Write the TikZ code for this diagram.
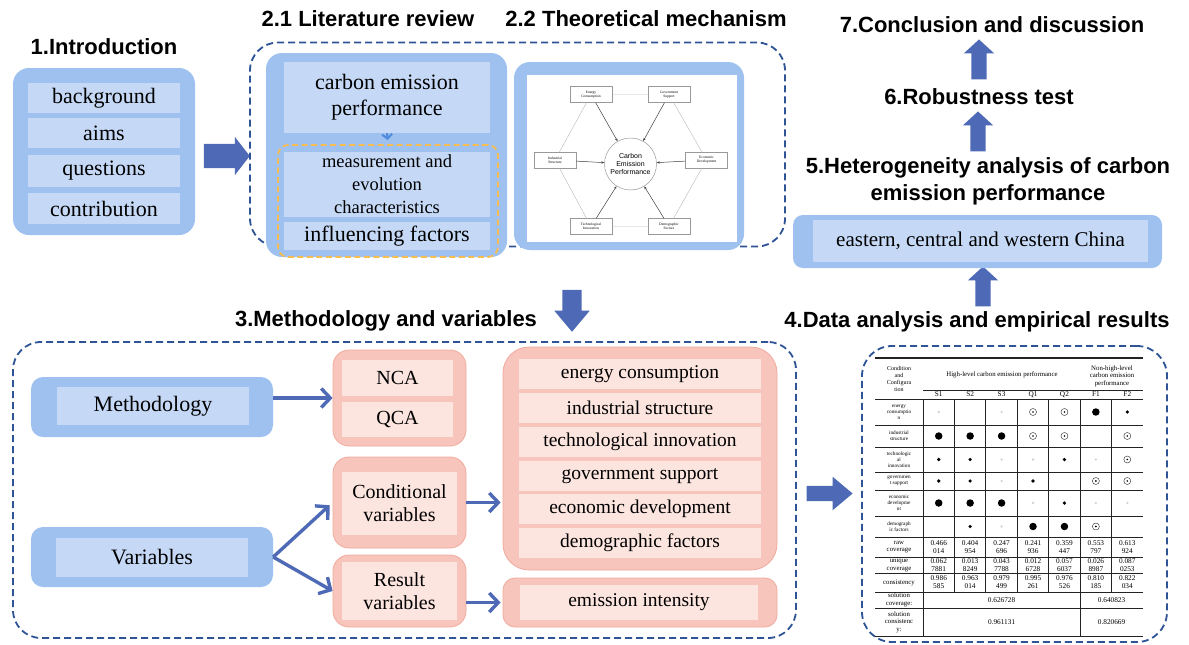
\documentclass[tikz,border=0pt]{standalone}
\usepackage{fontspec}
\setmainfont{Liberation Serif}
\setsansfont{Liberation Sans}
\usetikzlibrary{arrows.meta,shapes.arrows}

\definecolor{panelblue}{RGB}{158,193,240}
\definecolor{barblue}{RGB}{197,217,246}
\definecolor{panelpink}{RGB}{247,197,187}
\definecolor{edgepink}{RGB}{241,170,158}
\definecolor{barpink}{RGB}{252,228,223}
\definecolor{dashblue}{RGB}{46,84,150}
\definecolor{flowblue}{RGB}{78,106,182}
\definecolor{chevblue}{RGB}{84,141,222}
\definecolor{dashorange}{RGB}{248,189,80}
\definecolor{rulegray}{RGB}{35,35,35}

\tikzset{
  sechead/.style={font=\sffamily\bfseries\fontsize{22}{27}\selectfont,align=center,inner sep=0pt},
  panel/.style={fill=panelblue,rounded corners=16pt,inner sep=0pt},
  barbox/.style={fill=barblue,inner sep=0pt,align=center,font=\fontsize{22}{26}\selectfont},
  pinkpanel/.style={fill=panelpink,draw=edgepink,line width=0.8pt,rounded corners=16pt,inner sep=0pt},
  pinkbar/.style={fill=barpink,inner sep=0pt,align=center,font=\fontsize{19.5}{23}\selectfont},
  secbox/.style={draw=dashblue,line width=1.8pt,dash pattern=on 7pt off 4pt,rounded corners=28pt,inner sep=0pt},
  flowarrow/.style={single arrow,fill=flowblue,inner sep=7.5pt,single arrow head extend=7.5pt,single arrow tip angle=95},
  linkarrow/.style={draw=flowblue,line width=3.4pt,-{Straight Barb[length=9pt,width=19pt]}},
  hexbox/.style={draw=gray!80,line width=0.4pt,fill=white,minimum width=42,minimum height=16,inner sep=0pt,align=center,font=\fontsize{3.6}{4}\selectfont},
  hexline/.style={draw=gray!55,line width=0.4pt},
  hexarrow/.style={draw=black!75,line width=0.5pt,-{Stealth[length=3pt,width=2.4pt]}},
  tabrule/.style={draw=rulegray,line width=1pt},
  rowtxt/.style={inner sep=0pt,align=center,font=\fontsize{5.2}{6}\selectfont},
  stattxt/.style={inner sep=0pt,align=center,font=\fontsize{6.8}{7.4}\selectfont},
  numtxt/.style={inner sep=0pt,align=center,font=\fontsize{7.3}{7.8}\selectfont},
  mkB/.style={circle,fill=black,inner sep=0pt,minimum size=7.5},
  mks/.style={circle,fill=black,inner sep=0pt,minimum size=3.6},
  mkg/.style={circle,fill=gray!35,inner sep=0pt,minimum size=2.6},
  mko/.style={circle,draw=black!80,line width=0.45pt,inner sep=0pt,minimum size=7,
    path picture={\fill[black] (path picture bounding box.center) circle (0.9pt);}},
  mkn/.style={inner sep=0pt},
}

\begin{document}
\begin{tikzpicture}[x=1pt,y=-1pt]
\fill[white] (0,0) rectangle (1189,645);
\useasboundingbox (0,0) rectangle (1189,645);

% 1. introduction
\node[sechead] (h1) at (104,47) {1.Introduction};
\node[panel,minimum width=182,minimum height=167] (intro) at (104,151.5) {};
\node[barbox,minimum width=152,minimum height=30] (bg) at (104,98) {background};
\node[barbox,minimum width=152,minimum height=30] (aims) at (104,133) {aims};
\node[barbox,minimum width=152,minimum height=32] (quest) at (104,171) {questions};
\node[barbox,minimum width=152,minimum height=31] (contr) at (104,208.5) {contribution};
\node[flowarrow,minimum height=46,inner sep=12pt,single arrow head extend=7pt,single arrow tip angle=104] (f12) at (222,156) {};

% 2. literature review and mechanism
\node[sechead] (h21) at (368,19) {2.1 Literature review};
\node[sechead] (h22) at (646,19) {2.2 Theoretical mechanism};
\node[secbox,minimum width=535,minimum height=204] (sec2) at (517.5,144.5) {};
\node[panel,minimum width=241,minimum height=204] (lit) at (386.5,155) {};
\node[barbox,minimum width=206,minimum height=71] (cep) at (387,97.5) {carbon emission\\performance};
\node[barbox,minimum width=206,minimum height=65,font=\fontsize{18.5}{23}\selectfont] (meas) at (387,184.5) {measurement and\\evolution\\characteristics};
\node[barbox,minimum width=206,minimum height=28] (infl) at (387,236) {influencing factors};
\node[draw=dashorange,line width=1.8pt,dash pattern=on 6pt off 3.5pt,rounded corners=10pt,minimum width=220,minimum height=112,inner sep=0pt] (ofac) at (388,201) {};
\draw[chevblue,line width=2.2pt,-{Straight Barb[length=4.5pt,width=10pt]},shorten >=4pt] (cep.south) -- (ofac.north);

\node[panel,minimum width=230,minimum height=188] (theo) at (629,156) {};
\node[fill=white,minimum width=210,minimum height=167,inner sep=0pt] (sheet) at (632,158.5) {};
\node[circle,draw=gray!80,line width=0.5pt,minimum size=52,inner sep=0pt,align=center,font=\sffamily\fontsize{7}{8}\selectfont] (cp) at (630.5,164) {Carbon\\Emission\\Performance};
\node[hexbox] (ec) at (591,94.5) {Energy\\Consumption};
\node[hexbox] (gs) at (669,94.5) {Government\\Support};
\node[hexbox] (is) at (555,160) {Industrial\\Structure};
\node[hexbox] (ed) at (706.5,160) {Economic\\Development};
\node[hexbox] (ti) at (591,226.5) {Technological\\Innovation};
\node[hexbox] (df) at (669,226.5) {Demographic\\Factors};
\draw[hexline] (ec) -- (gs) -- (ed) -- (df) -- (ti) -- (is) -- (ec);
\foreach \n in {ec,gs,is,ed,ti,df}
  \draw[hexarrow] (\n) -- (cp);

\node[flowarrow,shape border rotate=270,minimum height=42,inner sep=9.5pt,single arrow head extend=8pt,single arrow tip angle=80] (f23) at (572,305) {};

% 3. methodology and variables
\node[sechead] (h3) at (386,321) {3.Methodology and variables};
\node[secbox,minimum width=783,minimum height=296] (sec3) at (404.5,490) {};
\node[panel,rounded corners=12pt,minimum width=242,minimum height=60] (meth) at (152,407) {};
\node[barbox,minimum width=192,minimum height=38] (methi) at (153,406) {Methodology};
\node[panel,rounded corners=12pt,minimum width=242,minimum height=60] (vars) at (152,557) {};
\node[barbox,minimum width=192,minimum height=39] (varsi) at (152,557.5) {Variables};

\node[pinkpanel,minimum width=133,minimum height=96] (meths) at (399.5,398) {};
\node[pinkbar,minimum width=111,minimum height=36,font=\fontsize{20}{23}\selectfont] (nca) at (397.5,378) {NCA};
\node[pinkbar,minimum width=111,minimum height=35,font=\fontsize{20}{23}\selectfont] (qca) at (397.5,419.5) {QCA};
\node[pinkpanel,minimum width=133,minimum height=91] (cond) at (399.5,502.5) {};
\node[pinkbar,minimum width=115,minimum height=63,font=\fontsize{20}{23}\selectfont] (condi) at (399.5,503.5) {Conditional\\variables};
\node[pinkpanel,minimum width=133,minimum height=72] (res) at (399.5,591) {};
\node[pinkbar,minimum width=115,minimum height=58,font=\fontsize{20}{23}\selectfont] (resi) at (399.5,591) {Result\\variables};

\node[pinkpanel,rounded corners=26pt,minimum width=274,minimum height=223] (facs) at (640,458.5) {};
\foreach \ty/\txt [count=\i] in {374/energy consumption,408/industrial structure,442/technological innovation,476/government support,509/economic development,543/demographic factors}
  \node[pinkbar,minimum width=242,minimum height=30] (fac\i) at (640,\ty) {\txt};
\node[pinkpanel,rounded corners=12pt,minimum width=274,minimum height=49] (emis) at (640,602.5) {};
\node[pinkbar,minimum width=238,minimum height=35] (emisi) at (639,602.5) {emission intensity};

\draw[linkarrow] (meths.west -| meth.east) -- (meths.west);
\draw[linkarrow,shorten >=4pt] (vars.east) -- (cond.west);
\draw[linkarrow] (vars.east) -- (res.west);
\draw[linkarrow,shorten >=2pt] (cond.east) -- (cond.east -| facs.west);
\draw[linkarrow,shorten >=2pt] (emis.west -| res.east) -- (emis.west);

\node[flowarrow,minimum height=46,inner sep=7.5pt,single arrow head extend=9pt,single arrow tip angle=80] (f34) at (825,493.5) {};

% 4. data analysis
\node[sechead] (h4) at (977,322) {4.Data analysis and empirical results};
\node[secbox,rounded corners=30pt,minimum width=305,minimum height=296] (sec4) at (1014.5,494) {};

\draw[tabrule,line width=1.5pt] (875,358) -- (1143,358);
\draw[tabrule] (923,390) -- (1143,390);
\foreach \ty in {399,425,447,472,490,516,537,557,573,592,608,636}
  \draw[tabrule] (875,\ty) -- (1143,\ty);
\foreach \j in {0,...,6}
  \draw[tabrule] ({923+31.43*\j},399) -- ({923+31.43*\j},592);
\draw[tabrule] (923,592) -- (923,636);
\draw[tabrule] ({923+31.43*5},592) -- ({923+31.43*5},636);

\node[rowtxt,font=\fontsize{6}{7}\selectfont] (thc) at (899,379) {Condition\\and\\Configura\\tion};
\node[numtxt,font=\fontsize{6.8}{7.4}\selectfont] (thh) at (1002,375) {High-level carbon emission performance};
\node[numtxt,font=\fontsize{6.8}{7.4}\selectfont] (thn) at (1112,376) {Non-high-level\\carbon emission\\performance};
\foreach \c [count=\j] in {S1,S2,S3,Q1,Q2,F1,F2}
  \node[numtxt] (col\j) at ({923+31.43*(\j-0.5)},394.5) {\c};

\foreach \ty/\lab [count=\i] in {412/{energy\\consumptio\\n},436/{industrial\\structure},459.5/{technologic\\al\\innovation},481/{governmen\\t support},503/{economic\\developme\\nt},526.5/{demograph\\ic factors}}
  \node[rowtxt] (lab\i) at (899,\ty) {\lab};
\foreach \ty/\lab [count=\i] in {547/{raw\\coverage},565/{unique\\coverage},582.5/{consistency},600/{solution\\coverage:},622/{solution\\consistenc\\y:}}
  \node[stattxt] (stat\i) at (899,\ty) {\lab};

\foreach \ty/\marks [count=\i] in {412/{g,n,g,o,o,B,s},436/{B,B,B,o,o,n,o},459.5/{s,s,g,g,s,g,o},481/{s,s,g,s,n,o,o},503/{B,B,B,g,s,g,g},526.5/{n,s,g,B,B,o,n}}
  \foreach \m [count=\j] in \marks
    \node[mk\m] (cell\i-\j) at ({923+31.43*(\j-0.5)},\ty) {};

\foreach \a/\b [count=\j] in {0.466/014,0.404/954,0.247/696,0.241/936,0.359/447,0.553/797,0.613/924}
  \node[numtxt] (raw\j) at ({923+31.43*(\j-0.5)},547) {\a\\\b};
\foreach \a/\b [count=\j] in {0.062/7881,0.013/8249,0.043/7788,0.012/6728,0.057/6037,0.026/8987,0.087/0253}
  \node[numtxt] (uni\j) at ({923+31.43*(\j-0.5)},565) {\a\\\b};
\foreach \a/\b [count=\j] in {0.986/585,0.963/014,0.979/499,0.995/261,0.976/526,0.810/185,0.822/034}
  \node[numtxt] (con\j) at ({923+31.43*(\j-0.5)},582.5) {\a\\\b};
\node[numtxt] (scov1) at (1001.6,600) {0.626728};
\node[numtxt] (scov2) at (1111.6,600) {0.640823};
\node[numtxt] (scon1) at (1001.6,622) {0.961131};
\node[numtxt] (scon2) at (1111.6,622) {0.820669};

% 5.-7. right column
\node[flowarrow,shape border rotate=90,minimum height=40] (f45) at (983,290) {};
\node[panel,rounded corners=10pt,minimum width=369,minimum height=53] (reg) at (977.5,241.5) {};
\node[barbox,minimum width=335,minimum height=42,font=\fontsize{21}{24}\selectfont] (regi) at (980.5,241) {eastern, central and western China};
\node[sechead] (h5) at (988,181.5) {5.Heterogeneity analysis of carbon\\emission performance};
\node[flowarrow,shape border rotate=90,minimum height=40] (f56) at (978,135) {};
\node[sechead] (h6) at (979,97) {6.Robustness test};
\node[flowarrow,shape border rotate=90,minimum height=40] (f67) at (979,63) {};
\node[sechead] (h7) at (992,25) {7.Conclusion and discussion};
\end{tikzpicture}
\end{document}
